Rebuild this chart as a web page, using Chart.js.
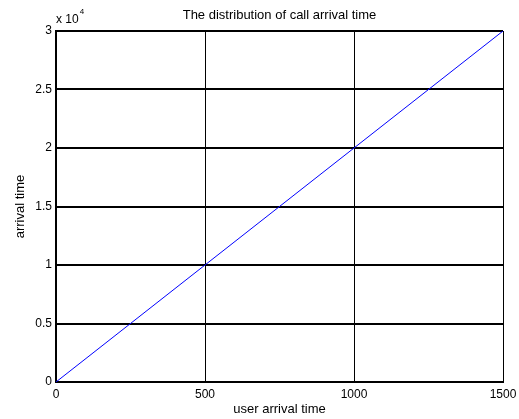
<!DOCTYPE html>
<html>
<head>
<meta charset="utf-8">
<script src="https://cdn.jsdelivr.net/npm/chart.js@4/dist/chart.umd.min.js"></script>
<style>
html,body{margin:0;padding:0;background:#fff;}
#wrap{width:519px;height:419px;position:relative;}
</style>
</head>
<body>
<div id="wrap"><canvas id="c" width="519" height="419"></canvas></div>
<script>
const chartTitle = "The distribution of call arrival time";
const xLabel = "user arrival time";
const yLabel = "arrival time";
const userArrival = [0, 500, 1000, 1500];
const callArrival = [0, 10000, 20000, 30000];
const xTicks = [0, 500, 1000, 1500];
const yTicks = [0, 0.5, 1, 1.5, 2, 2.5, 3];
const yExponent = "4";

const FONT = "'Liberation Sans', Arial, sans-serif";

const overlay = {
  id: 'overlay',
  afterDraw(chart) {
    const ctx = chart.ctx, a = chart.chartArea;
    ctx.save();
    ctx.fillStyle = '#000';
    ctx.font = '13px ' + FONT;
    ctx.textAlign = 'center';
    ctx.textBaseline = 'middle';
    ctx.fillText(chartTitle, (a.left + a.right) / 2, 15);
    ctx.textAlign = 'left';
    ctx.font = '12px ' + FONT;
    ctx.fillText('x 10', a.left, 20);
    const w = ctx.measureText('x 10').width;
    ctx.font = '8px ' + FONT;
    ctx.fillText(yExponent, a.left + w + 1, 12);
    ctx.restore();
  }
};

new Chart(document.getElementById('c'), {
  type: 'line',
  data: {
    datasets: [{
      data: userArrival.map((x, i) => ({x: x, y: callArrival[i]})),
      borderColor: '#0000ff',
      borderWidth: 1,
      pointRadius: 0,
      fill: false,
      tension: 0
    }]
  },
  options: {
    responsive: false,
    animation: false,
    devicePixelRatio: 1,
    layout: {padding: {top: 31, right: 16, left: 0, bottom: 0}},
    plugins: {legend: {display: false}, tooltip: {enabled: false}, title: {display: false}},
    scales: {
      x: {
        type: 'linear', min: 0, max: 1500,
        afterFit(s) { s.height = 37; s.paddingLeft = 0; s.paddingRight = 0; },
        afterBuildTicks(s) { s.ticks = xTicks.map(v => ({value: v})); },
        ticks: {color: '#000', font: {size: 12, family: FONT}, padding: 5, maxRotation: 0,
          callback: v => String(v)},
        grid: {color: '#000', lineWidth: 1, drawTicks: false},
        border: {color: '#000', width: 2},
        title: {display: true, text: xLabel, color: '#000', font: {size: 13, family: FONT}, padding: {top: 0, bottom: 2}}
      },
      y: {
        type: 'linear', min: 0, max: 30000,
        afterFit(s) { s.width = 56; s.paddingTop = 0; s.paddingBottom = 0; },
        afterBuildTicks(s) { s.ticks = yTicks.map(v => ({value: v * 10000})); },
        ticks: {color: '#000', font: {size: 12, family: FONT}, padding: 4,
          callback: v => String(v / 10000)},
        grid: {color: '#000', lineWidth: 2, drawTicks: false},
        border: {color: '#000', width: 2},
        title: {display: true, text: yLabel, color: '#000', font: {size: 13, family: FONT}, padding: {top: 13, bottom: 13}}
      }
    }
  },
  plugins: [overlay]
});
</script>
</body>
</html>
